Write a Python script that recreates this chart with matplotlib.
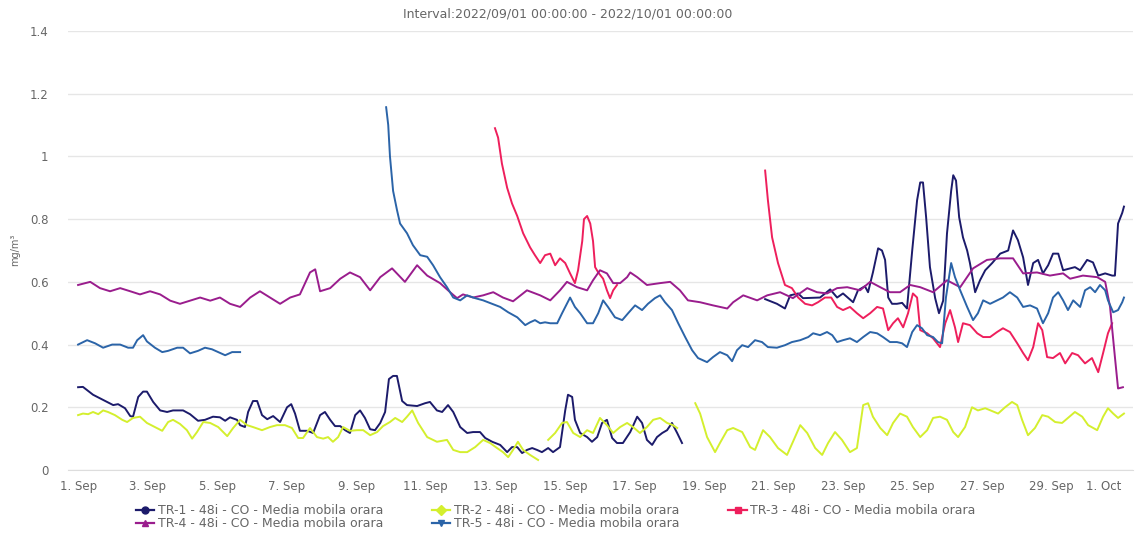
import numpy as np
import pandas as pd
import matplotlib
matplotlib.use("Agg")
from matplotlib import pyplot as plt
from matplotlib.lines import Line2D

plt.rcParams['font.family'] = ['DejaVu Sans']

# days since 2022-09-01 00:00 and mg/m3 values, one pair of lists per continuous segment
tr1_a_days = [0.00, 0.14, 0.43, 0.83, 1.01, 1.15, 1.35, 1.50, 1.58, 1.73, 1.87, 1.98, 2.16, 2.36, 2.56, 2.73,
              3.02, 3.22, 3.45, 3.65, 3.88, 4.08, 4.23, 4.37, 4.57, 4.66, 4.80, 4.89, 5.03, 5.15, 5.29, 5.44,
              5.61, 5.81, 6.01, 6.13, 6.24, 6.38, 6.59, 6.76, 6.96, 7.10, 7.25, 7.39, 7.54, 7.68, 7.82, 7.97,
              8.11, 8.25, 8.40, 8.54, 8.69, 8.83, 8.94, 9.06, 9.17, 9.32, 9.46, 9.75, 9.98, 10.12, 10.32,
              10.47, 10.64, 10.79, 10.99, 11.19, 11.36, 11.56, 11.71, 11.91, 12.14, 12.34, 12.48, 12.63,
              12.77, 12.91, 13.06, 13.20, 13.34, 13.52, 13.66, 13.86, 14.01, 14.09, 14.21, 14.29, 14.44,
              14.64, 14.78, 14.93, 15.07, 15.21, 15.36, 15.50, 15.67, 15.88, 16.08, 16.22, 16.36, 16.51,
              16.65, 16.80, 16.94, 17.08, 17.23, 17.37]
tr1_a_vals = [0.264, 0.265, 0.24, 0.217, 0.207, 0.21, 0.197, 0.172, 0.17, 0.233, 0.25, 0.25, 0.217, 0.19, 0.185, 0.19,
              0.19, 0.178, 0.157, 0.16, 0.17, 0.168, 0.157, 0.168, 0.16, 0.143, 0.137, 0.185, 0.22, 0.22, 0.175, 0.162,
              0.172, 0.153, 0.2, 0.21, 0.18, 0.125, 0.125, 0.118, 0.175, 0.185, 0.16, 0.14, 0.14, 0.127, 0.118, 0.175,
              0.19, 0.166, 0.13, 0.127, 0.15, 0.185, 0.29, 0.30, 0.30, 0.22, 0.207, 0.204, 0.213, 0.217, 0.19,
              0.185, 0.207, 0.185, 0.137, 0.118, 0.121, 0.121, 0.102, 0.09, 0.08, 0.057, 0.073, 0.073,
              0.054, 0.064, 0.07, 0.064, 0.057, 0.07, 0.057, 0.073, 0.19, 0.24, 0.233, 0.16, 0.118,
              0.105, 0.09, 0.105, 0.15, 0.16, 0.102, 0.086, 0.086, 0.121, 0.17, 0.15, 0.096, 0.08,
              0.105, 0.118, 0.127, 0.15, 0.118, 0.086]
tr1_b_days = [19.76, 20.10, 20.33, 20.48, 20.71, 20.85, 21.34, 21.63, 21.83, 22.00, 22.29, 22.43, 22.63, 22.72,
              22.86, 23.01, 23.12, 23.21, 23.30, 23.41, 23.55, 23.70, 23.84, 23.99, 24.13, 24.22, 24.30, 24.39,
              24.50, 24.65, 24.76, 24.88, 24.99, 25.11, 25.17, 25.25, 25.34, 25.45, 25.57, 25.65, 25.80, 25.94,
              26.09, 26.29, 26.52, 26.75, 26.89, 27.03, 27.18, 27.32, 27.47, 27.61, 27.75, 27.90, 28.04, 28.19,
              28.33, 28.53, 28.67, 28.82, 29.02, 29.19, 29.34, 29.54, 29.74, 29.82, 29.91, 30.03, 30.08]
tr1_b_vals = [0.545, 0.53, 0.515, 0.557, 0.563, 0.548, 0.55, 0.576, 0.55, 0.563, 0.535, 0.573, 0.586, 0.567,
              0.63, 0.707, 0.70, 0.67, 0.55, 0.53, 0.53, 0.533, 0.515, 0.70, 0.86, 0.917, 0.917, 0.806,
              0.647, 0.548, 0.50, 0.54, 0.754, 0.89, 0.94, 0.923, 0.806, 0.742, 0.70, 0.66, 0.567, 0.605,
              0.637, 0.66, 0.69, 0.70, 0.764, 0.733, 0.678, 0.59, 0.66, 0.67, 0.627, 0.653, 0.69, 0.69,
              0.637, 0.643, 0.647, 0.637, 0.67, 0.662, 0.62, 0.627, 0.62, 0.62, 0.786, 0.82, 0.84]

tr2_a_days = [0.00, 0.14, 0.29, 0.43, 0.58, 0.72, 0.86, 1.06, 1.27, 1.41, 1.58, 1.78, 1.98, 2.21, 2.42, 2.59,
              2.73, 2.93, 3.13, 3.28, 3.42, 3.60, 3.80, 4.03, 4.29, 4.46, 4.66, 4.86, 5.03, 5.29, 5.52, 5.72,
              5.95, 6.15, 6.33, 6.47, 6.67, 6.87, 7.05, 7.19, 7.33, 7.48, 7.62, 7.82, 8.02, 8.20, 8.40, 8.60,
              8.77, 8.97, 9.12, 9.32, 9.46, 9.61, 9.78, 10.04, 10.32, 10.61, 10.79, 10.99, 11.19, 11.42, 11.65,
              11.85, 12.05, 12.22, 12.37, 12.51, 12.65, 12.80, 13.00, 13.23]
tr2_a_vals = [0.175, 0.18, 0.178, 0.185, 0.178, 0.19, 0.185, 0.175, 0.16, 0.153, 0.166, 0.17, 0.15, 0.137, 0.125, 0.153,
              0.16, 0.147, 0.127, 0.10, 0.121, 0.153, 0.15, 0.137, 0.108, 0.134, 0.16, 0.143, 0.137, 0.127, 0.137, 0.143,
              0.143, 0.134, 0.102, 0.102, 0.134, 0.105, 0.10, 0.105, 0.09, 0.105, 0.137, 0.125, 0.127, 0.127, 0.111, 0.121,
              0.14, 0.153, 0.166, 0.153, 0.17, 0.19, 0.15, 0.105, 0.09, 0.096, 0.064, 0.057, 0.057, 0.073, 0.096,
              0.086, 0.07, 0.057, 0.041, 0.064, 0.09, 0.064, 0.048, 0.032]
tr2_b_days = [13.52, 13.72, 13.92, 14.06, 14.24, 14.44, 14.64, 14.81, 15.01, 15.21, 15.39, 15.59, 15.79, 15.96,
              16.16, 16.36, 16.54, 16.74, 16.94, 17.11, 17.23]
tr2_b_vals = [0.096, 0.118, 0.15, 0.153, 0.118, 0.105, 0.127, 0.118, 0.166, 0.143, 0.118, 0.137, 0.15, 0.137,
              0.118, 0.137, 0.16, 0.166, 0.15, 0.143, 0.134]
tr2_c_days = [17.75, 17.89, 18.09, 18.32, 18.46, 18.67, 18.84, 19.10, 19.33, 19.47, 19.70, 19.90, 20.13, 20.39,
              20.56, 20.77, 20.97, 21.20, 21.40, 21.57, 21.77, 21.97, 22.20, 22.40, 22.58, 22.72, 22.86, 23.07,
              23.27, 23.44, 23.64, 23.84, 24.01, 24.22, 24.42, 24.59, 24.79, 24.99, 25.17, 25.31, 25.51, 25.71,
              25.88, 26.09, 26.46, 26.66, 26.86, 27.01, 27.15, 27.32, 27.52, 27.73, 27.90, 28.10, 28.30, 28.47,
              28.67, 28.88, 29.05, 29.31, 29.48, 29.62, 29.77, 29.91, 30.08]
tr2_c_vals = [0.213, 0.18, 0.105, 0.057, 0.086, 0.127, 0.134, 0.121, 0.073, 0.064, 0.127, 0.105, 0.07, 0.048,
              0.09, 0.143, 0.118, 0.07, 0.048, 0.086, 0.121, 0.096, 0.057, 0.07, 0.207, 0.213, 0.17, 0.134,
              0.111, 0.15, 0.18, 0.17, 0.137, 0.105, 0.127, 0.166, 0.17, 0.16, 0.121, 0.105, 0.137, 0.20,
              0.19, 0.197, 0.18, 0.20, 0.217, 0.207, 0.16, 0.111, 0.134, 0.175, 0.17, 0.153, 0.15, 0.166,
              0.185, 0.17, 0.143, 0.127, 0.17, 0.197, 0.18, 0.166, 0.18]

tr3_a_days = [11.99, 12.08, 12.19, 12.34, 12.48, 12.63, 12.80, 13.00, 13.14, 13.29, 13.43, 13.58, 13.72, 13.86,
              14.01, 14.15, 14.29, 14.38, 14.50, 14.55, 14.64, 14.73, 14.81, 14.87, 14.96, 15.10, 15.21, 15.30,
              15.39, 15.50]
tr3_a_vals = [1.09, 1.06, 0.977, 0.90, 0.85, 0.81, 0.755, 0.71, 0.685, 0.66, 0.685, 0.69, 0.653, 0.675,
              0.66, 0.627, 0.596, 0.637, 0.73, 0.80, 0.81, 0.786, 0.73, 0.647, 0.63, 0.61, 0.573, 0.548,
              0.573, 0.59]
tr3_b_days = [19.76, 19.84, 19.96, 20.13, 20.33, 20.53, 20.71, 20.91, 21.11, 21.28, 21.48, 21.66, 21.83, 22.00,
              22.20, 22.40, 22.58, 22.78, 22.98, 23.15, 23.30, 23.44, 23.58, 23.73, 23.87, 24.01, 24.13, 24.22,
              24.42, 24.59, 24.79, 24.94, 25.08, 25.22, 25.31, 25.45, 25.65, 25.86, 26.03, 26.23, 26.43, 26.60,
              26.80, 27.01, 27.18, 27.32, 27.47, 27.61, 27.73, 27.87, 28.04, 28.24, 28.39, 28.59, 28.76, 28.96,
              29.16, 29.34, 29.48, 29.62, 29.74]
tr3_b_vals = [0.955, 0.86, 0.742, 0.66, 0.59, 0.58, 0.55, 0.53, 0.525, 0.535, 0.55, 0.55, 0.52, 0.51,
              0.52, 0.50, 0.484, 0.50, 0.52, 0.515, 0.446, 0.468, 0.484, 0.455, 0.50, 0.563, 0.55, 0.446,
              0.436, 0.42, 0.392, 0.468, 0.51, 0.455, 0.408, 0.468, 0.462, 0.436, 0.424, 0.424, 0.44, 0.452,
              0.44, 0.404, 0.373, 0.35, 0.392, 0.468, 0.446, 0.36, 0.357, 0.373, 0.34, 0.373, 0.366, 0.34,
              0.357, 0.312, 0.373, 0.436, 0.468]

tr4_days = [0.00, 0.35, 0.63, 0.92, 1.21, 1.50, 1.78, 2.07, 2.36, 2.65, 2.93, 3.22, 3.51, 3.80, 4.08, 4.37,
            4.66, 4.95, 5.23, 5.52, 5.81, 6.10, 6.38, 6.67, 6.82, 6.96, 7.25, 7.54, 7.82, 8.11, 8.40, 8.69,
            9.03, 9.40, 9.75, 10.04, 10.41, 10.70, 10.90, 11.07, 11.36, 11.65, 11.94, 12.22, 12.51, 12.91,
            13.29, 13.58, 13.86, 14.06, 14.35, 14.64, 14.81, 15.01, 15.21, 15.39, 15.59, 15.79, 15.88, 16.08,
            16.36, 16.74, 17.03, 17.31, 17.54, 17.89, 18.26, 18.67, 18.84, 19.13, 19.53, 19.82, 20.19, 20.56,
            20.97, 21.25, 21.54, 21.83, 22.12, 22.49, 22.78, 23.07, 23.35, 23.64, 23.93, 24.22, 24.59, 24.99,
            25.37, 25.74, 26.14, 26.52, 26.89, 27.18, 27.58, 27.95, 28.33, 28.53, 28.90, 29.31, 29.54, 29.68,
            29.82, 29.91, 30.05]
tr4_vals = [0.59, 0.60, 0.58, 0.57, 0.58, 0.57, 0.56, 0.57, 0.56, 0.54, 0.53, 0.54, 0.55, 0.54, 0.55, 0.53,
            0.52, 0.55, 0.57, 0.55, 0.53, 0.55, 0.56, 0.63, 0.64, 0.57, 0.58, 0.61, 0.63, 0.615, 0.573, 0.615,
            0.643, 0.60, 0.653, 0.62, 0.596, 0.567, 0.548, 0.56, 0.55, 0.557, 0.567, 0.55, 0.538, 0.573,
            0.557, 0.541, 0.573, 0.60, 0.583, 0.573, 0.605, 0.637, 0.627, 0.596, 0.596, 0.615, 0.63, 0.615,
            0.59, 0.596, 0.60, 0.573, 0.541, 0.535, 0.525, 0.515, 0.535, 0.557, 0.541, 0.557, 0.567, 0.548,
            0.58, 0.567, 0.563, 0.58, 0.583, 0.573, 0.60, 0.583, 0.567, 0.567, 0.59, 0.583, 0.567, 0.605,
            0.583, 0.643, 0.67, 0.675, 0.675, 0.627, 0.63, 0.62, 0.627, 0.61, 0.62, 0.615, 0.60, 0.52,
            0.36, 0.26, 0.264]

tr5_a_days = [0.00, 0.26, 0.49, 0.72, 0.98, 1.21, 1.44, 1.58, 1.70, 1.87, 1.98, 2.21, 2.42, 2.59, 2.85, 3.02,
              3.22, 3.45, 3.65, 3.85, 4.03, 4.23, 4.43, 4.66]
tr5_a_vals = [0.40, 0.414, 0.404, 0.39, 0.40, 0.40, 0.39, 0.39, 0.414, 0.43, 0.41, 0.39, 0.376, 0.38, 0.39, 0.39,
              0.372, 0.38, 0.39, 0.385, 0.376, 0.366, 0.376, 0.376]
tr5_b_days = [8.86, 8.92, 8.97, 9.06, 9.17, 9.26, 9.46, 9.63, 9.84, 10.04, 10.21, 10.41, 10.61, 10.79, 10.99,
              11.19, 11.42, 11.65, 11.91, 12.14, 12.37, 12.63, 12.86, 13.00, 13.14, 13.29, 13.43, 13.58, 13.78,
              13.92, 14.06, 14.15, 14.29, 14.44, 14.64, 14.81, 14.96, 15.10, 15.24, 15.44, 15.65, 15.82, 16.02,
              16.22, 16.39, 16.59, 16.74, 16.88, 17.08, 17.26, 17.46, 17.66, 17.83, 18.09, 18.26, 18.46, 18.67,
              18.81, 18.95, 19.10, 19.27, 19.47, 19.67, 19.84, 20.10, 20.33, 20.53, 20.77, 21.00, 21.14, 21.34,
              21.54, 21.69, 21.83, 22.00, 22.20, 22.40, 22.58, 22.78, 22.98, 23.15, 23.35, 23.55, 23.70, 23.84,
              23.99, 24.13, 24.27, 24.42, 24.59, 24.73, 24.85, 24.96, 25.11, 25.22, 25.37, 25.57, 25.74, 25.88,
              26.03, 26.23, 26.43, 26.60, 26.80, 27.01, 27.18, 27.38, 27.58, 27.75, 27.90, 28.04, 28.19, 28.33,
              28.47, 28.62, 28.82, 28.96, 29.11, 29.25, 29.39, 29.54, 29.62, 29.77, 29.91, 30.03, 30.08]
tr5_b_vals = [1.157, 1.10, 1.0, 0.89, 0.83, 0.786, 0.755, 0.717, 0.685, 0.68, 0.653, 0.615, 0.583, 0.55, 0.541,
              0.557, 0.548, 0.541, 0.53, 0.52, 0.503, 0.487, 0.462, 0.471, 0.478, 0.468, 0.471, 0.468, 0.468,
              0.50, 0.53, 0.55, 0.52, 0.50, 0.468, 0.468, 0.50, 0.541, 0.52, 0.487, 0.478, 0.50, 0.525,
              0.51, 0.53, 0.548, 0.557, 0.535, 0.51, 0.468, 0.424, 0.382, 0.357, 0.344, 0.36, 0.376, 0.366,
              0.347, 0.382, 0.398, 0.392, 0.414, 0.408, 0.392, 0.39, 0.398, 0.408, 0.414, 0.424, 0.436, 0.43,
              0.44, 0.43, 0.408, 0.414, 0.42, 0.408, 0.424, 0.44, 0.436, 0.424, 0.408, 0.408, 0.404, 0.392,
              0.44, 0.462, 0.452, 0.43, 0.424, 0.408, 0.404, 0.55, 0.66, 0.615, 0.573, 0.52, 0.478, 0.50,
              0.541, 0.53, 0.541, 0.55, 0.567, 0.55, 0.52, 0.525, 0.515, 0.468, 0.50, 0.55, 0.567, 0.541,
              0.51, 0.541, 0.52, 0.573, 0.583, 0.567, 0.59, 0.573, 0.541, 0.503, 0.51, 0.535, 0.55]

series_names = ['TR-1 - 48i - CO - Media mobila orara', 'TR-2 - 48i - CO - Media mobila orara',
                'TR-3 - 48i - CO - Media mobila orara', 'TR-4 - 48i - CO - Media mobila orara',
                'TR-5 - 48i - CO - Media mobila orara']
tick_labels = ['1. Sep', '3. Sep', '5. Sep', '7. Sep', '9. Sep', '11. Sep', '13. Sep', '15. Sep',
               '17. Sep', '19. Sep', '21. Sep', '23. Sep', '25. Sep', '27. Sep', '29. Sep', '1. Oct']
tick_days = [0, 2, 4, 6, 8, 10, 12, 14, 16, 18, 20, 22, 24, 26, 28, 30]
y_ticks = [0, 0.2, 0.4, 0.6, 0.8, 1.0, 1.2, 1.4]
y_tick_labels = ['0', '0.2', '0.4', '0.6', '0.8', '1', '1.2', '1.4']

colors = ['#1c1b6b', '#d4ef2e', '#ee1f5c', '#9a1d8d', '#2b64a8']
markers = ['o', 'D', 's', '^', 'v']

start = pd.Timestamp('2022-09-01 00:00')


def to_time(days):
    return start + pd.to_timedelta(np.asarray(days, dtype=float), unit='D')


def join(*segs):
    # segments of (days, vals) separated by NaN so the line breaks
    xs, ys = [], []
    for d, v in segs:
        if xs:
            xs.append(xs[-1][-1:])
            ys.append(np.array([np.nan]))
        xs.append(to_time(d))
        ys.append(np.asarray(v, dtype=float))
    return np.concatenate([np.asarray(x) for x in xs]), np.concatenate(ys)


series = [
    join((tr1_a_days, tr1_a_vals), (tr1_b_days, tr1_b_vals)),
    join((tr2_a_days, tr2_a_vals), (tr2_b_days, tr2_b_vals), (tr2_c_days, tr2_c_vals)),
    join((tr3_a_days, tr3_a_vals), (tr3_b_days, tr3_b_vals)),
    join((tr4_days, tr4_vals)),
    join((tr5_a_days, tr5_a_vals), (tr5_b_days, tr5_b_vals)),
]

fig = plt.figure(figsize=(11.44, 5.33), dpi=100)
ax = fig.add_axes([68 / 1144, 1 - 470 / 533, (1133 - 68) / 1144, (470 - 31) / 533])

for (x, y), c in zip(series, colors):
    ax.plot(x, y, color=c, lw=1.4, solid_joinstyle='round')

ax.set_ylim(0, 1.4)
ax.set_xlim(to_time([-0.29])[0], to_time([30.34])[0])
ax.set_yticks(y_ticks)
ax.set_yticklabels(y_tick_labels)
ax.set_xticks(to_time(tick_days))
ax.set_xticklabels(tick_labels)
ax.get_xticklabels()[-1].set_horizontalalignment('right')
ax.tick_params(axis='both', length=0, colors='#666666', labelsize=8.5)
ax.tick_params(axis='x', pad=7)
ax.tick_params(axis='y', pad=14)
ax.grid(axis='y', color='#e6e6e6', lw=1)
ax.set_axisbelow(True)
for s in ['top', 'right', 'left']:
    ax.spines[s].set_visible(False)
ax.spines['bottom'].set_color('#dddddd')

fig.text(15 / 1144, 1 - 250 / 533, 'mg/m\u00b3', rotation=90, ha='center', va='center',
         fontsize=7, color='#666666')
fig.text(568 / 1144, 1 - 14 / 533, 'Interval:2022/09/01 00:00:00 - 2022/10/01 00:00:00',
         ha='center', va='center', fontsize=9, color='#666666')

handles = [Line2D([0], [0], color=c, lw=1.6, marker=m, markersize=5)
           for c, m in zip(colors, markers)]
order = [0, 3, 1, 4, 2]
fig.legend([handles[i] for i in order], [series_names[i] for i in order], ncol=3,
           loc='center', bbox_to_anchor=(556 / 1144, 1 - 517 / 533), frameon=False,
           fontsize=9, labelcolor='#666666', handlelength=1.45, handletextpad=0.3,
           columnspacing=3.9, labelspacing=0.0, borderpad=0)

fig.savefig('out.png', dpi=100)
